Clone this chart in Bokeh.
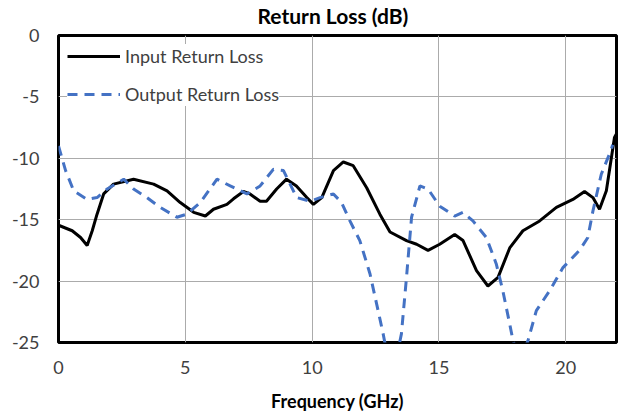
from bokeh.plotting import figure
from bokeh.models import FixedTicker, Legend, LegendItem, Range1d, Title
from bokeh.embed import file_html
from bokeh.resources import INLINE

# ---- data ----
freq_in = [0.0, 0.54, 0.87, 1.13, 1.33, 1.52, 1.78, 2.17, 2.96, 3.75, 4.28, 4.8,
           5.33, 5.79, 6.11, 6.64, 6.9, 7.29, 7.55, 7.95, 8.2, 8.6, 8.99, 9.38,
           9.79, 10.05, 10.38, 10.84, 11.23, 11.62, 12.15, 12.67, 13.07, 13.72,
           14.12, 14.57, 15.03, 15.62, 15.95, 16.48, 16.93, 17.33, 17.79, 18.31,
           18.97, 19.63, 20.28, 20.74, 21.07, 21.33, 21.6, 21.92, 22.0]
rl_in = [-15.45, -15.9, -16.45, -17.1, -15.9, -14.55, -12.9, -12.1, -11.7, -12.1,
         -12.65, -13.6, -14.4, -14.7, -14.15, -13.75, -13.3, -12.7, -12.9, -13.5,
         -13.5, -12.5, -11.7, -12.25, -13.2, -13.75, -13.2, -11.0, -10.3, -10.6,
         -12.4, -14.55, -16.0, -16.7, -17.0, -17.5, -17.0, -16.2, -16.7, -19.15,
         -20.4, -19.7, -17.3, -15.9, -15.1, -14.0, -13.35, -12.7, -13.2, -14.15,
         -12.65, -8.3, -8.0]

freq_out = [0.0, 0.28, 0.6, 1.13, 1.52, 1.92, 2.57, 2.96, 3.49, 4.01, 4.67, 5.06,
            5.59, 6.25, 6.77, 7.43, 7.95, 8.47, 8.87, 9.39, 9.92, 10.31, 10.84,
            11.16, 11.49, 11.88, 12.28, 12.6, 12.8, 13.15, 13.52, 13.72, 13.92,
            14.25, 14.57, 15.03, 15.62, 15.95, 16.34, 16.87, 17.26, 17.52, 17.79,
            17.92, 18.2, 18.51, 18.84, 19.36, 19.89, 20.54, 20.87, 21.07, 21.4,
            21.79, 21.85]
rl_out = [-9.0, -11.0, -12.65, -13.35, -13.2, -12.5, -11.7, -12.5, -13.2, -14.0,
          -14.8, -14.55, -13.6, -11.7, -12.25, -12.9, -12.25, -10.9, -11.0, -13.2,
          -13.5, -13.2, -12.9, -13.6, -15.1, -16.7, -19.4, -22.4, -24.3, -28.0,
          -24.3, -19.7, -14.8, -12.25, -12.5, -13.9, -14.7, -14.4, -15.1, -16.45,
          -18.6, -20.8, -23.5, -24.85, -26.5, -24.85, -22.4, -20.8, -18.9, -17.5,
          -16.45, -14.3, -11.3, -9.3, -8.9]

x_ticks = [0, 5, 10, 15, 20]
x_tick_labels = ["0", "5", "10", "15", "20"]
y_ticks = [-25, -20, -15, -10, -5, 0]
y_tick_labels = ["-25", "-20", "-15", "-10", "-5", "0"]

TITLE = "Return Loss (dB)"
X_TITLE = "Frequency (GHz)"

FONT = "Lato"
TXT = "#404040"

p = figure(width=622, height=416,
           x_range=Range1d(0, 22), y_range=Range1d(-25, 0),
           output_backend="svg", toolbar_location=None,
           min_border_left=58, min_border_right=6,
           min_border_top=35, min_border_bottom=74)

p.background_fill_color = "white"
p.border_fill_color = "white"
p.outline_line_color = "black"
p.outline_line_width = 3

for ax in (p.xaxis[0], p.yaxis[0]):
    ax.axis_line_color = None
    ax.major_tick_line_color = None
    ax.minor_tick_line_color = None
    ax.major_tick_in = 0
    ax.major_tick_out = 0
    ax.minor_tick_in = 0
    ax.minor_tick_out = 0
    ax.major_label_text_font = FONT
    ax.major_label_text_font_size = "18px"
    ax.major_label_text_color = TXT

p.xaxis.ticker = FixedTicker(ticks=x_ticks)
p.yaxis.ticker = FixedTicker(ticks=y_ticks)
p.xaxis.major_label_overrides = {float(t): s for t, s in zip(x_ticks, x_tick_labels)}
p.yaxis.major_label_overrides = {float(t): s for t, s in zip(y_ticks, y_tick_labels)}
p.xaxis.major_label_standoff = 18
p.yaxis.major_label_standoff = 19
p.xaxis.axis_label = X_TITLE
p.xaxis.axis_label_text_font = FONT
p.xaxis.axis_label_text_font_size = "18px"
p.xaxis.axis_label_text_font_style = "bold"
p.xaxis.axis_label_text_color = "black"
p.xaxis.axis_label_standoff = 13

p.xgrid.ticker = FixedTicker(ticks=x_ticks)
p.ygrid.ticker = FixedTicker(ticks=y_ticks)
p.grid.grid_line_color = "#ababab"
p.grid.grid_line_width = 1

r_in = p.line(freq_in, rl_in, line_color="black", line_width=3)
r_out = p.line(freq_out, rl_out, line_color="#4472C4", line_width=3,
               line_dash="10 7")

legend = Legend(items=[LegendItem(label="Input Return Loss", renderers=[r_in]),
                       LegendItem(label="Output Return Loss", renderers=[r_out])],
                location="top_left", margin=9, padding=9, spacing=14,
                glyph_width=53, glyph_height=24, label_height=24,
                label_standoff=5, label_text_font=FONT,
                label_text_font_size="18px", label_text_color=TXT,
                border_line_color=None, background_fill_color="white",
                background_fill_alpha=1.0)
p.add_layout(legend)

# spacer panel (closest to the frame) pushes the title upwards
spacer = Title(text=" ", text_font_size="6px", standoff=0)
p.add_layout(spacer, "above")
title = Title(text=TITLE, align="left", offset=199, standoff=0,
              text_font=FONT, text_font_size="21px", text_font_style="bold",
              text_color="black")
p.add_layout(title, "above")

html = file_html(p, INLINE)
open("out.html", "w").write(html)
